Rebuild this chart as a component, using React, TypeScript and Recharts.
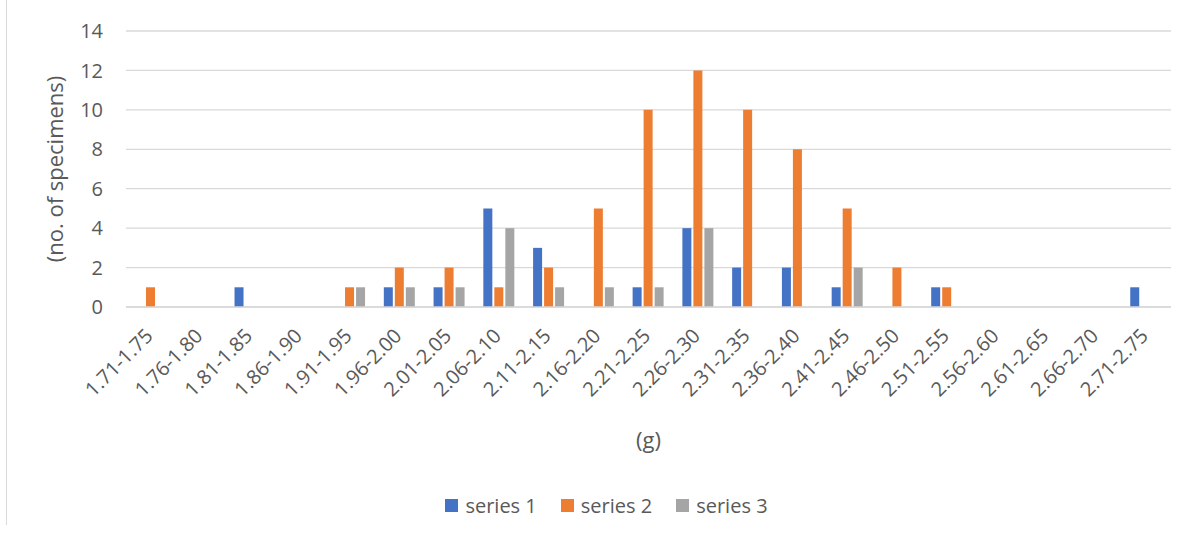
import { Bar, BarChart, CartesianGrid, Legend, XAxis, YAxis } from "recharts";

const categories = [
  "1.71-1.75", "1.76-1.80", "1.81-1.85", "1.86-1.90", "1.91-1.95", "1.96-2.00", "2.01-2.05",
  "2.06-2.10", "2.11-2.15", "2.16-2.20", "2.21-2.25", "2.26-2.30", "2.31-2.35", "2.36-2.40",
  "2.41-2.45", "2.46-2.50", "2.51-2.55", "2.56-2.60", "2.61-2.65", "2.66-2.70", "2.71-2.75",
];

const series1 = [0, 0, 1, 0, 0, 1, 1, 5, 3, 0, 1, 4, 2, 2, 1, 0, 1, 0, 0, 0, 1];
const series2 = [1, 0, 0, 0, 1, 2, 2, 1, 2, 5, 10, 12, 10, 8, 5, 2, 1, 0, 0, 0, 0];
const series3 = [0, 0, 0, 0, 1, 1, 1, 4, 1, 1, 1, 4, 0, 0, 2, 0, 0, 0, 0, 0, 0];

const yTicks = [0, 2, 4, 6, 8, 10, 12, 14];

const data = categories.map((range, i) => ({
  range,
  s1: series1[i],
  s2: series2[i],
  s3: series3[i],
}));

const FONT = "'Open Sans', sans-serif";
const TEXT = "#595959";
const GRID = "#D9D9D9";

// rotated category label, its top-right corner sits just left of the band centre
function RangeTick({ x, y, payload }: any) {
  return (
    <g transform={`translate(${x - 7},${y + 20})`}>
      <text
        transform="rotate(-45)"
        textAnchor="end"
        dy="0.72em"
        fill={TEXT}
        fontSize={20}
        fontFamily={FONT}
      >
        {payload.value}
      </text>
    </g>
  );
}

function LegendRow({ payload }: any) {
  return (
    <div
      style={{
        height: 26,
        display: "flex",
        justifyContent: "center",
        alignItems: "center",
        paddingLeft: 66,
        fontFamily: FONT,
        fontSize: 20,
        color: TEXT,
      }}
    >
      {(payload || []).map((item: any) => (
        <div key={item.value} style={{ display: "flex", alignItems: "center", marginRight: 24 }}>
          <span style={{ width: 13, height: 13, background: item.color, marginRight: 7 }} />
          <span>{item.value}</span>
        </div>
      ))}
    </div>
  );
}

export default function App() {
  return (
    <div style={{ position: "absolute", left: 0, top: 0, width: 1197, height: 540, background: "#fff" }}>
      <div
        style={{ position: "absolute", left: 6, top: 0, width: 1, height: 525, background: GRID }}
      />
      <BarChart
        width={1197}
        height={540}
        data={data}
        margin={{ top: 31, right: 26, left: 0, bottom: 22 }}
        barSize={9}
        barGap={2}
      >
        <CartesianGrid vertical={false} stroke={GRID} strokeWidth={1.3} />
        <XAxis
          dataKey="range"
          interval={0}
          height={185}
          tickLine={false}
          tickSize={0}
          tickMargin={0}
          axisLine={{ stroke: GRID, strokeWidth: 1.3 }}
          tick={<RangeTick />}
          label={{
            value: "(g)",
            position: "insideBottom",
            offset: 44,
            fill: TEXT,
            fontSize: 22,
            fontFamily: FONT,
          }}
        />
        <YAxis
          width={126}
          domain={[0, 14]}
          ticks={yTicks}
          interval={0}
          axisLine={false}
          tickLine={false}
          tickSize={0}
          tickMargin={23}
          tick={{ fill: TEXT, fontSize: 20, fontFamily: FONT }}
          label={{
            value: "(no. of specimens)",
            angle: -90,
            position: "center",
            dx: -8,
            fill: TEXT,
            fontSize: 22,
            fontFamily: FONT,
          }}
        />
        <Legend verticalAlign="bottom" content={<LegendRow />} />
        <Bar dataKey="s1" name="series 1" fill="#4472C4" isAnimationActive={false} />
        <Bar dataKey="s2" name="series 2" fill="#ED7D31" isAnimationActive={false} />
        <Bar dataKey="s3" name="series 3" fill="#A5A5A5" isAnimationActive={false} />
      </BarChart>
    </div>
  );
}
